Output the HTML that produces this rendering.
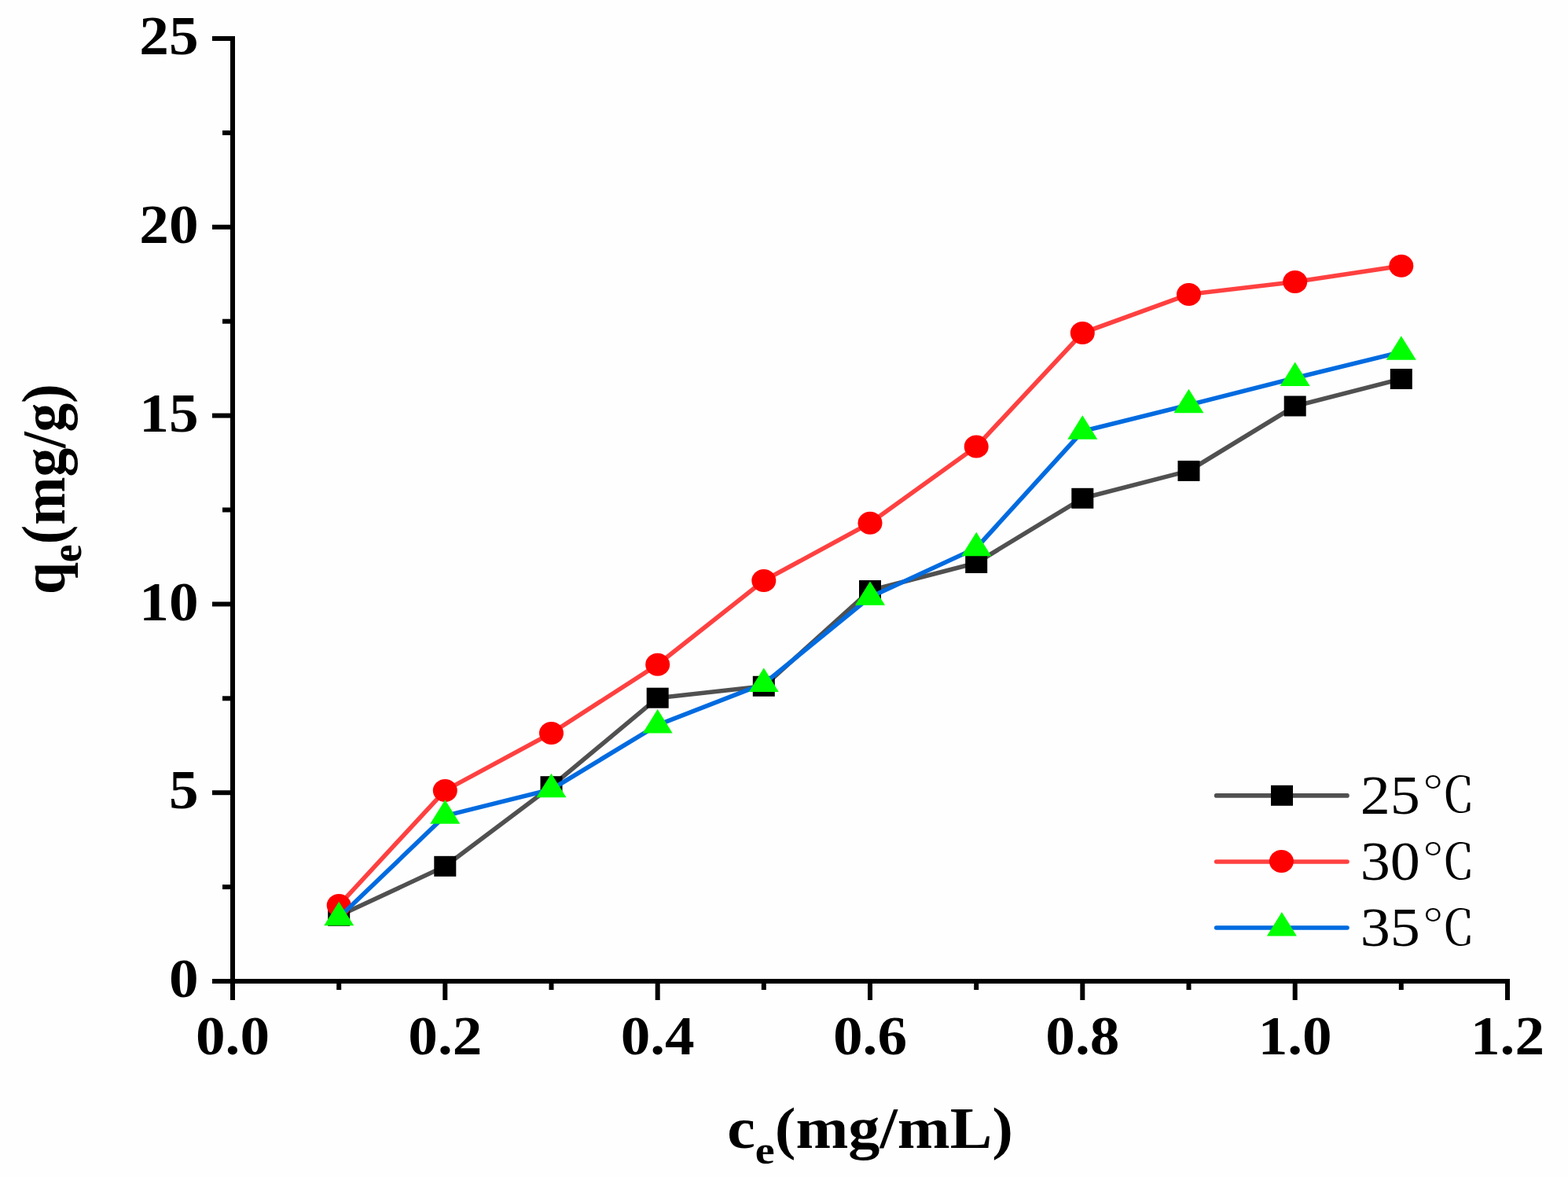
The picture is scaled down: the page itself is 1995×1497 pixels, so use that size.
<!DOCTYPE html>
<html><head><meta charset="utf-8"><title>qe vs ce</title><style>
html,body{margin:0;padding:0;background:#fefefe;overflow:hidden;}
svg{display:block;}
text{font-family:"Liberation Serif","Noto Serif CJK SC",serif;fill:#000;}
.t text{font-weight:bold;font-size:70px;}
.lg{font-size:70.8px;}
.dg{font-family:"Noto Serif CJK SC","Liberation Serif",serif;font-size:61px;}
.ti{font-weight:bold;font-size:74px;}
</style></head><body>
<svg width="1995" height="1497" viewBox="0 0 1995 1497">
<rect width="1995" height="1497" fill="#fefefe"/>
<g>
<rect x="293" y="46" width="6" height="1205" fill="#000"/>
<rect x="293" y="1245" width="1628" height="6" fill="#000"/>
<rect x="270" y="1245.0" width="23" height="6" fill="#000"/>
<rect x="270" y="1005.2" width="23" height="6" fill="#000"/>
<rect x="270" y="765.4" width="23" height="6" fill="#000"/>
<rect x="270" y="525.6" width="23" height="6" fill="#000"/>
<rect x="270" y="285.8" width="23" height="6" fill="#000"/>
<rect x="270" y="46.0" width="23" height="6" fill="#000"/>
<rect x="283" y="1125.1" width="10" height="6" fill="#000"/>
<rect x="283" y="885.3" width="10" height="6" fill="#000"/>
<rect x="283" y="645.5" width="10" height="6" fill="#000"/>
<rect x="283" y="405.7" width="10" height="6" fill="#000"/>
<rect x="283" y="165.9" width="10" height="6" fill="#000"/>
<rect x="293.0" y="1251" width="6" height="21" fill="#000"/>
<rect x="563.3" y="1251" width="6" height="21" fill="#000"/>
<rect x="833.7" y="1251" width="6" height="21" fill="#000"/>
<rect x="1104.0" y="1251" width="6" height="21" fill="#000"/>
<rect x="1374.3" y="1251" width="6" height="21" fill="#000"/>
<rect x="1644.7" y="1251" width="6" height="21" fill="#000"/>
<rect x="1915.0" y="1251" width="6" height="21" fill="#000"/>
<rect x="428.2" y="1251" width="6" height="8" fill="#000"/>
<rect x="698.5" y="1251" width="6" height="8" fill="#000"/>
<rect x="968.8" y="1251" width="6" height="8" fill="#000"/>
<rect x="1239.2" y="1251" width="6" height="8" fill="#000"/>
<rect x="1509.5" y="1251" width="6" height="8" fill="#000"/>
<rect x="1779.8" y="1251" width="6" height="8" fill="#000"/>
</g>
<g class="t">
<text transform="translate(252.6,1268.2) scale(1.075,1)" text-anchor="end">0</text>
<text transform="translate(252.6,1028.4) scale(1.075,1)" text-anchor="end">5</text>
<text transform="translate(252.6,788.6) scale(1.075,1)" text-anchor="end">10</text>
<text transform="translate(252.6,548.8) scale(1.075,1)" text-anchor="end">15</text>
<text transform="translate(252.6,309.0) scale(1.075,1)" text-anchor="end">20</text>
<text transform="translate(252.6,69.2) scale(1.075,1)" text-anchor="end">25</text>
<text transform="translate(296.0,1340.5) scale(1.075,1)" text-anchor="middle">0.0</text>
<text transform="translate(566.3,1340.5) scale(1.075,1)" text-anchor="middle">0.2</text>
<text transform="translate(836.7,1340.5) scale(1.075,1)" text-anchor="middle">0.4</text>
<text transform="translate(1107.0,1340.5) scale(1.075,1)" text-anchor="middle">0.6</text>
<text transform="translate(1377.3,1340.5) scale(1.075,1)" text-anchor="middle">0.8</text>
<text transform="translate(1647.7,1340.5) scale(1.075,1)" text-anchor="middle">1.0</text>
<text transform="translate(1918.0,1340.5) scale(1.075,1)" text-anchor="middle">1.2</text>
</g>
<g>
<polyline points="431.2,1164.8 566.3,1101.8 701.5,1000.2 836.7,887.7 971.8,872.8 1107.0,751.0 1242.2,716.0 1377.3,633.8 1512.5,598.9 1647.7,516.5 1782.8,482.0" fill="none" stroke="#505050" stroke-width="5.6" stroke-linejoin="round"/>
<rect x="417.2" y="1151.8" width="28" height="26" fill="#000"/>
<rect x="552.3" y="1088.8" width="28" height="26" fill="#000"/>
<rect x="687.5" y="987.2" width="28" height="26" fill="#000"/>
<rect x="822.7" y="874.7" width="28" height="26" fill="#000"/>
<rect x="957.8" y="859.8" width="28" height="26" fill="#000"/>
<rect x="1093.0" y="738.0" width="28" height="26" fill="#000"/>
<rect x="1228.2" y="703.0" width="28" height="26" fill="#000"/>
<rect x="1363.3" y="620.8" width="28" height="26" fill="#000"/>
<rect x="1498.5" y="585.9" width="28" height="26" fill="#000"/>
<rect x="1633.7" y="503.5" width="28" height="26" fill="#000"/>
<rect x="1768.8" y="469.0" width="28" height="26" fill="#000"/>
<polyline points="431.2,1151.4 566.3,1005.4 701.5,932.5 836.7,845.3 971.8,738.5 1107.0,665.3 1242.2,568.1 1377.3,423.5 1512.5,374.4 1647.7,358.5 1782.8,338.2" fill="none" stroke="#FF4040" stroke-width="5.6" stroke-linejoin="round"/>
<ellipse cx="431.2" cy="1151.4" rx="15.5" ry="14.5" fill="#F00"/>
<ellipse cx="566.3" cy="1005.4" rx="15.5" ry="14.5" fill="#F00"/>
<ellipse cx="701.5" cy="932.5" rx="15.5" ry="14.5" fill="#F00"/>
<ellipse cx="836.7" cy="845.3" rx="15.5" ry="14.5" fill="#F00"/>
<ellipse cx="971.8" cy="738.5" rx="15.5" ry="14.5" fill="#F00"/>
<ellipse cx="1107.0" cy="665.3" rx="15.5" ry="14.5" fill="#F00"/>
<ellipse cx="1242.2" cy="568.1" rx="15.5" ry="14.5" fill="#F00"/>
<ellipse cx="1377.3" cy="423.5" rx="15.5" ry="14.5" fill="#F00"/>
<ellipse cx="1512.5" cy="374.4" rx="15.5" ry="14.5" fill="#F00"/>
<ellipse cx="1647.7" cy="358.5" rx="15.5" ry="14.5" fill="#F00"/>
<ellipse cx="1782.8" cy="338.2" rx="15.5" ry="14.5" fill="#F00"/>
<polyline points="431.2,1167.0 566.3,1037.6 701.5,1004.0 836.7,922.2 971.8,869.7 1107.0,759.5 1242.2,697.0 1377.3,548.5 1512.5,515.0 1647.7,480.8 1782.8,447.6" fill="none" stroke="#006BE0" stroke-width="5.6" stroke-linejoin="round"/>
<polygon points="431.2,1146.7 450.2,1177.2 412.2,1177.2" fill="#0F0"/>
<polygon points="566.3,1017.3 585.3,1047.8 547.3,1047.8" fill="#0F0"/>
<polygon points="701.5,983.7 720.5,1014.2 682.5,1014.2" fill="#0F0"/>
<polygon points="836.7,901.9 855.7,932.4 817.7,932.4" fill="#0F0"/>
<polygon points="971.8,849.4 990.8,879.9 952.8,879.9" fill="#0F0"/>
<polygon points="1107.0,739.2 1126.0,769.7 1088.0,769.7" fill="#0F0"/>
<polygon points="1242.2,676.7 1261.2,707.2 1223.2,707.2" fill="#0F0"/>
<polygon points="1377.3,528.2 1396.3,558.7 1358.3,558.7" fill="#0F0"/>
<polygon points="1512.5,494.7 1531.5,525.2 1493.5,525.2" fill="#0F0"/>
<polygon points="1647.7,460.5 1666.7,491.0 1628.7,491.0" fill="#0F0"/>
<polygon points="1782.8,427.3 1801.8,457.8 1763.8,457.8" fill="#0F0"/>
</g>
<g>
<line x1="1547.6" y1="1011.9" x2="1714.0" y2="1011.9" stroke="#505050" stroke-width="5.6" stroke-linecap="round"/>
<line x1="1547.6" y1="1096" x2="1714.0" y2="1096" stroke="#FF4040" stroke-width="5.6" stroke-linecap="round"/>
<line x1="1547.6" y1="1180" x2="1714.0" y2="1180" stroke="#006BE0" stroke-width="5.6" stroke-linecap="round"/>
<rect x="1617.0" y="998.8" width="28" height="26" fill="#000"/>
<ellipse cx="1630.4" cy="1095.4" rx="15.5" ry="14.5" fill="#F00"/>
<polygon points="1630.9,1160.0 1649.9,1190.5 1611.9,1190.5" fill="#0F0"/>
<text class="lg" transform="translate(1730.8,1034.6) scale(1.075,1)">25</text>
<text class="dg" transform="translate(1809.0,1033.1) scale(1.115,1)">℃</text>
<text class="lg" transform="translate(1730.8,1119.0) scale(1.075,1)">30</text>
<text class="dg" transform="translate(1809.0,1117.5) scale(1.115,1)">℃</text>
<text class="lg" transform="translate(1730.8,1203.4) scale(1.075,1)">35</text>
<text class="dg" transform="translate(1809.0,1201.9) scale(1.115,1)">℃</text>
</g>
<text class="ti" transform="translate(925.2,1460.0) scale(1.085,1)">c<tspan font-size="51.7" dy="20">e</tspan><tspan dy="-20">(mg/mL)</tspan></text>
<text class="ti" style="font-size:73.5px" transform="translate(82.3,756.1) rotate(-90) scale(1,1.075)">q<tspan font-size="51.7" dy="19.1">e</tspan><tspan dy="-19.1">(mg/g)</tspan></text>
</svg>
</body></html>
